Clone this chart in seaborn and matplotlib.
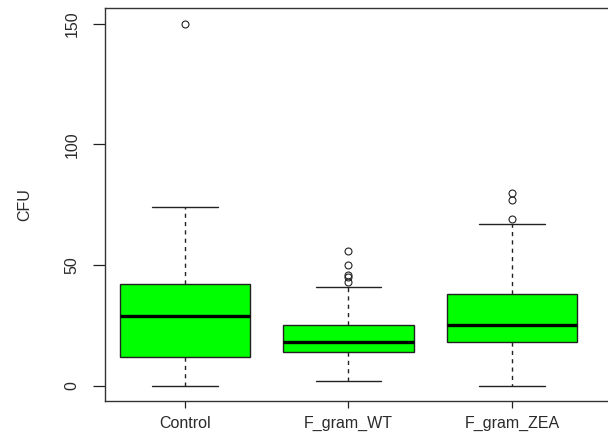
import numpy as np
import pandas as pd
import matplotlib
matplotlib.use("Agg")
import matplotlib.pyplot as plt
import seaborn as sns

# Group names (x tick labels)
groups = ["Control", "F_gram_WT", "F_gram_ZEA"]

# Observations per group, chosen so the box statistics match the chart
control = [0, 6, 12, 20, 29, 35, 42, 74, 150]
f_gram_wt = [2, 5, 8, 10, 12, 13, 14, 15, 16, 16, 17, 17, 18,
             19, 20, 21, 23, 24, 25, 41, 43, 45, 46, 50, 56]
f_gram_zea = [0, 6, 11, 15, 18, 20, 22, 24, 25, 28, 32, 35, 38, 67, 69, 77, 80]

y_ticks = [0, 50, 100, 150]
y_label = "CFU"

df = pd.DataFrame({
    "group": ["Control"] * len(control) + ["F_gram_WT"] * len(f_gram_wt)
             + ["F_gram_ZEA"] * len(f_gram_zea),
    "CFU": control + f_gram_wt + f_gram_zea,
})

sns.set_style("white")
plt.rcParams["font.family"] = ["Liberation Sans", "DejaVu Sans"]

fig = plt.figure(figsize=(6.08, 4.36), dpi=100)
ax = fig.add_axes([105 / 608, 1 - 401 / 436, 1 - 105 / 608, (401 - 8) / 436])

edge = "#222222"
txt = "#2a2a2a"
sns.boxplot(
    data=df, x="group", y="CFU", order=groups, ax=ax,
    color="#00FF00", saturation=1, width=0.8, whis=1.5,
    linecolor=edge, linewidth=1.0,
    boxprops={"edgecolor": edge, "linewidth": 1.0},
    whiskerprops={"color": edge, "linewidth": 1.0, "linestyle": (0, (3, 3))},
    capprops={"color": edge, "linewidth": 1.0},
    medianprops={"color": "black", "linewidth": 2.4},
    flierprops={"marker": "o", "markerfacecolor": "none",
                "markeredgecolor": edge, "markersize": 5,
                "markeredgewidth": 0.8},
)

ax.set_xlim(-0.489, 2.587)
ax.set_ylim(-6.3, 156.5)
ax.set_yticks(y_ticks)
ax.set_yticklabels([str(t) for t in y_ticks], rotation=90, va="center",
                   fontsize=11.5, color=txt)
ax.set_xticks(range(len(groups)))
ax.set_xticklabels(groups, fontsize=11.5, color=txt)
ax.set_xlabel("")
ax.set_ylabel(y_label, fontsize=11.5, color=txt)
ax.yaxis.set_label_coords(-0.145, 0.5)

ax.tick_params(axis="y", direction="out", length=8.5, width=0.9,
               color=edge, pad=10, left=True)
ax.tick_params(axis="x", direction="out", length=5, width=0.9,
               color=edge, pad=6, bottom=True)

for side in ["left", "bottom", "top"]:
    ax.spines[side].set_visible(True)
    ax.spines[side].set_color("#333333")
    ax.spines[side].set_linewidth(1.0)
ax.spines["right"].set_visible(False)

fig.savefig("out.png", dpi=100)
